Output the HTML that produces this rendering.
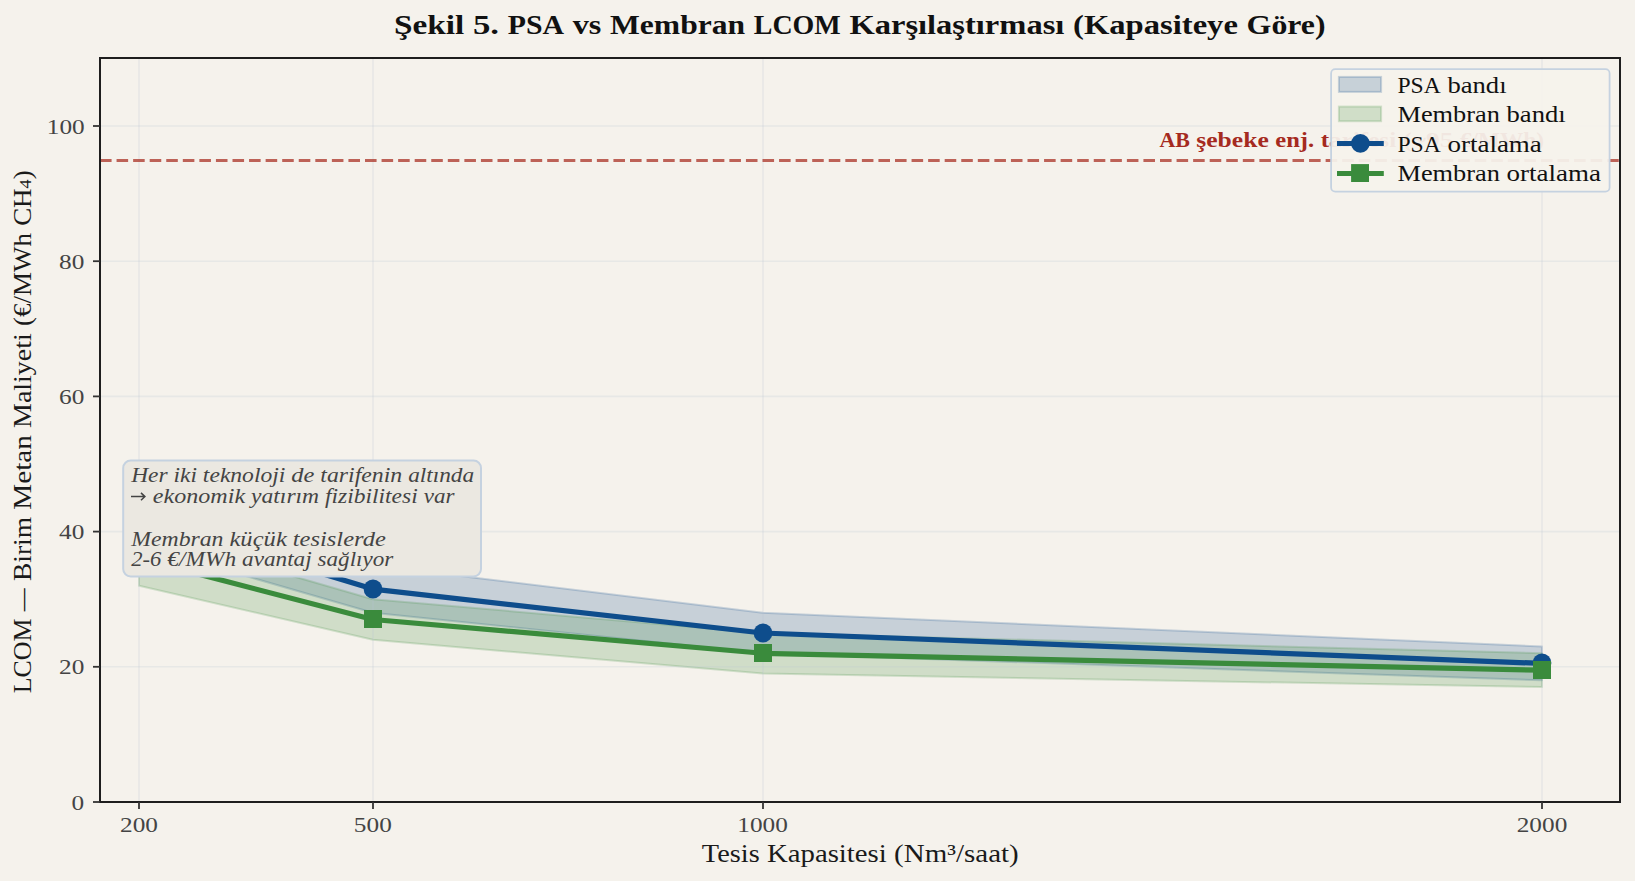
<!DOCTYPE html>
<html><head><meta charset="utf-8"><style>
html,body{margin:0;padding:0;background:#f5f2ec;width:1635px;height:881px;overflow:hidden}
svg{display:block}
text{font-family:"Liberation Serif", serif}
</style></head><body>
<svg width="1635" height="881" viewBox="0 0 1635 881">
<rect x="0" y="0" width="1635" height="881" fill="#f5f2ec"/>
<g font-size="28" font-weight="bold" fill="#111"><text x="394.00" y="34.20" textLength="70.28" lengthAdjust="spacingAndGlyphs">Şekil</text><text x="472.98" y="34.20" textLength="26.10" lengthAdjust="spacingAndGlyphs">5.</text><text x="507.79" y="34.20" textLength="56.25" lengthAdjust="spacingAndGlyphs">PSA</text><text x="572.74" y="34.20" textLength="28.60" lengthAdjust="spacingAndGlyphs">vs</text><text x="610.05" y="34.20" textLength="135.06" lengthAdjust="spacingAndGlyphs">Membran</text><text x="753.81" y="34.20" textLength="86.93" lengthAdjust="spacingAndGlyphs">LCOM</text><text x="849.44" y="34.20" textLength="214.88" lengthAdjust="spacingAndGlyphs">Karşılaştırması</text><text x="1073.03" y="34.20" textLength="164.90" lengthAdjust="spacingAndGlyphs">(Kapasiteye</text><text x="1246.63" y="34.20" textLength="78.93" lengthAdjust="spacingAndGlyphs">Göre)</text></g>
<polygon points="139.00,545.12 372.83,612.72 762.56,653.28 1542.00,680.32 1542.00,646.52 762.56,612.72 372.83,565.40 139.00,491.04" fill="#0e4d8c" fill-opacity="0.2" stroke="#0e4d8c" stroke-opacity="0.2" stroke-width="2" stroke-linejoin="round"/>
<polygon points="139.00,585.68 372.83,639.76 762.56,673.56 1542.00,687.08 1542.00,653.28 762.56,633.00 372.83,599.20 139.00,531.60" fill="#3a8b3c" fill-opacity="0.2" stroke="#3a8b3c" stroke-opacity="0.2" stroke-width="2" stroke-linejoin="round"/>
<g stroke="#b8c6d4" stroke-opacity="0.23" stroke-width="1.6"><line x1="139" y1="58" x2="139" y2="802"/><line x1="373" y1="58" x2="373" y2="802"/><line x1="763" y1="58" x2="763" y2="802"/><line x1="1542" y1="58" x2="1542" y2="802"/><line x1="100" y1="802.00" x2="1620" y2="802.00"/><line x1="100" y1="666.80" x2="1620" y2="666.80"/><line x1="100" y1="531.60" x2="1620" y2="531.60"/><line x1="100" y1="396.40" x2="1620" y2="396.40"/><line x1="100" y1="261.20" x2="1620" y2="261.20"/><line x1="100" y1="126.00" x2="1620" y2="126.00"/></g>
<line x1="100" y1="160.45" x2="1620" y2="160.45" stroke="#a93226" stroke-opacity="0.75" stroke-width="3.1" stroke-dasharray="11.5625 5"/>
<polyline points="139.00,518.08 372.83,589.06 762.56,633.00 1542.00,663.42" fill="none" stroke="#0e4d8c" stroke-width="5.2" stroke-linejoin="round"/>
<circle cx="139" cy="518" r="9.4" fill="#0e4d8c"/>
<circle cx="373" cy="589" r="9.4" fill="#0e4d8c"/>
<circle cx="763" cy="633" r="9.4" fill="#0e4d8c"/>
<circle cx="1542" cy="663" r="9.4" fill="#0e4d8c"/>
<polyline points="139.00,558.64 372.83,619.48 762.56,653.28 1542.00,670.18" fill="none" stroke="#3a8b3c" stroke-width="5.2" stroke-linejoin="round"/>
<rect x="130" y="550" width="18" height="18" fill="#3a8b3c"/>
<rect x="364" y="610" width="18" height="18" fill="#3a8b3c"/>
<rect x="754" y="644" width="18" height="18" fill="#3a8b3c"/>
<rect x="1533" y="661" width="18" height="18" fill="#3a8b3c"/>
<g font-size="20.8" font-weight="bold" fill="#a52a20"><text x="1159.40" y="146.80" textLength="30.40" lengthAdjust="spacingAndGlyphs">AB</text><text x="1196.32" y="146.80" textLength="72.45" lengthAdjust="spacingAndGlyphs">şebeke</text><text x="1275.30" y="146.80" textLength="38.87" lengthAdjust="spacingAndGlyphs">enj.</text><text x="1320.70" y="146.80" textLength="75.49" lengthAdjust="spacingAndGlyphs">tarifesi</text><text x="1402.71" y="146.80" textLength="50.67" lengthAdjust="spacingAndGlyphs">(~95</text><text x="1459.91" y="146.80" textLength="84.21" lengthAdjust="spacingAndGlyphs">€/MWh)</text></g>
<rect x="123.2" y="460.5" width="357.8" height="116" rx="7.5" ry="7.5" fill="#ebe8e1" stroke="#c5d2e0" stroke-width="2"/>
<g font-size="20.3" font-style="italic" fill="#444"><text x="131.20" y="481.80" textLength="36.41" lengthAdjust="spacingAndGlyphs">Her</text><text x="173.57" y="481.80" textLength="23.36" lengthAdjust="spacingAndGlyphs">iki</text><text x="202.89" y="481.80" textLength="82.45" lengthAdjust="spacingAndGlyphs">teknoloji</text><text x="291.30" y="481.80" textLength="23.10" lengthAdjust="spacingAndGlyphs">de</text><text x="320.36" y="481.80" textLength="81.86" lengthAdjust="spacingAndGlyphs">tarifenin</text><text x="408.18" y="481.80" textLength="65.97" lengthAdjust="spacingAndGlyphs">altında</text></g>
<path d="M131,496.6 H144.6 M141,492.9 L144.9,496.6 L141,500.3" fill="none" stroke="#444" stroke-width="1.5"/>
<g font-size="20.3" font-style="italic" fill="#444"><text x="152.87" y="502.60" textLength="92.25" lengthAdjust="spacingAndGlyphs">ekonomik</text><text x="251.08" y="502.60" textLength="68.04" lengthAdjust="spacingAndGlyphs">yatırım</text><text x="325.08" y="502.60" textLength="92.63" lengthAdjust="spacingAndGlyphs">fizibilitesi</text><text x="423.67" y="502.60" textLength="30.73" lengthAdjust="spacingAndGlyphs">var</text></g>
<g font-size="20.3" font-style="italic" fill="#444"><text x="131.20" y="545.60" textLength="92.29" lengthAdjust="spacingAndGlyphs">Membran</text><text x="229.45" y="545.60" textLength="57.38" lengthAdjust="spacingAndGlyphs">küçük</text><text x="292.79" y="545.60" textLength="93.03" lengthAdjust="spacingAndGlyphs">tesislerde</text></g>
<g font-size="20.3" font-style="italic" fill="#444"><text x="131.20" y="566.40" textLength="30.20" lengthAdjust="spacingAndGlyphs">2-6</text><text x="167.36" y="566.40" textLength="68.79" lengthAdjust="spacingAndGlyphs">€/MWh</text><text x="242.11" y="566.40" textLength="69.55" lengthAdjust="spacingAndGlyphs">avantaj</text><text x="317.62" y="566.40" textLength="75.64" lengthAdjust="spacingAndGlyphs">sağlıyor</text></g>
<rect x="100" y="58" width="1520" height="744" fill="none" stroke="#1e1e1e" stroke-width="2"/>
<g stroke="#333" stroke-width="1.8"><line x1="139" y1="802" x2="139" y2="809"/><line x1="373" y1="802" x2="373" y2="809"/><line x1="763" y1="802" x2="763" y2="809"/><line x1="1542" y1="802" x2="1542" y2="809"/><line x1="93" y1="802.00" x2="100" y2="802.00"/><line x1="93" y1="666.80" x2="100" y2="666.80"/><line x1="93" y1="531.60" x2="100" y2="531.60"/><line x1="93" y1="396.40" x2="100" y2="396.40"/><line x1="93" y1="261.20" x2="100" y2="261.20"/><line x1="93" y1="126.00" x2="100" y2="126.00"/></g>
<g font-size="21.8" fill="#444"><text x="71.41" y="809.60" textLength="12.65" lengthAdjust="spacingAndGlyphs">0</text></g>
<g font-size="21.8" fill="#444"><text x="59.12" y="674.40" textLength="25.29" lengthAdjust="spacingAndGlyphs">20</text></g>
<g font-size="21.8" fill="#444"><text x="59.12" y="539.20" textLength="25.29" lengthAdjust="spacingAndGlyphs">40</text></g>
<g font-size="21.8" fill="#444"><text x="59.12" y="404.00" textLength="25.29" lengthAdjust="spacingAndGlyphs">60</text></g>
<g font-size="21.8" fill="#444"><text x="59.12" y="268.80" textLength="25.29" lengthAdjust="spacingAndGlyphs">80</text></g>
<g font-size="21.8" fill="#444"><text x="46.84" y="133.60" textLength="37.94" lengthAdjust="spacingAndGlyphs">100</text></g>
<g font-size="21.8" fill="#444"><text x="120.03" y="831.60" textLength="37.94" lengthAdjust="spacingAndGlyphs">200</text></g>
<g font-size="21.8" fill="#444"><text x="353.87" y="831.60" textLength="37.94" lengthAdjust="spacingAndGlyphs">500</text></g>
<g font-size="21.8" fill="#444"><text x="737.26" y="831.60" textLength="50.58" lengthAdjust="spacingAndGlyphs">1000</text></g>
<g font-size="21.8" fill="#444"><text x="1516.71" y="831.60" textLength="50.58" lengthAdjust="spacingAndGlyphs">2000</text></g>
<g font-size="24.2" fill="#1a1a1a"><text x="701.88" y="862.00" textLength="57.81" lengthAdjust="spacingAndGlyphs">Tesis</text><text x="766.96" y="862.00" textLength="119.85" lengthAdjust="spacingAndGlyphs">Kapasitesi</text><text x="894.08" y="862.00" textLength="124.64" lengthAdjust="spacingAndGlyphs">(Nm³/saat)</text></g>
<g transform="translate(31,431.8) rotate(-90)"><g font-size="24.2" fill="#1a1a1a"><text x="-261.51" y="0.00" textLength="74.87" lengthAdjust="spacingAndGlyphs">LCOM</text><text x="-179.37" y="0.00" textLength="22.88" lengthAdjust="spacingAndGlyphs">—</text><text x="-149.22" y="0.00" textLength="64.07" lengthAdjust="spacingAndGlyphs">Birim</text><text x="-77.88" y="0.00" textLength="74.52" lengthAdjust="spacingAndGlyphs">Metan</text><text x="3.91" y="0.00" textLength="94.66" lengthAdjust="spacingAndGlyphs">Maliyeti</text><text x="105.84" y="0.00" textLength="92.85" lengthAdjust="spacingAndGlyphs">(€/MWh</text><text x="205.96" y="0.00" textLength="55.55" lengthAdjust="spacingAndGlyphs">CH<tspan font-size="0.68em">4</tspan>)</text></g></g>
<rect x="1331.1" y="69.2" width="278.5" height="122.5" rx="4.2" ry="4.2" fill="#f5f2ec" fill-opacity="0.94" stroke="#c5d2e0" stroke-width="1.8"/>
<rect x="1338.9" y="76.9" width="42.2" height="15" fill="#0e4d8c" fill-opacity="0.2" stroke="#0e4d8c" stroke-opacity="0.2" stroke-width="2"/>
<rect x="1338.9" y="106.6" width="42.2" height="14.6" fill="#3a8b3c" fill-opacity="0.2" stroke="#3a8b3c" stroke-opacity="0.2" stroke-width="2"/>
<line x1="1337" y1="143.5" x2="1383.8" y2="143.5" stroke="#0e4d8c" stroke-width="5.2"/><circle cx="1360.4" cy="143.4" r="9.3" fill="#0e4d8c"/>
<line x1="1337" y1="173.5" x2="1383.8" y2="173.5" stroke="#3a8b3c" stroke-width="5.2"/><rect x="1351.1" y="164.1" width="17.9" height="17.9" fill="#3a8b3c"/>
<g font-size="22.2" fill="#111"><text x="1397.50" y="93.00" textLength="43.29" lengthAdjust="spacingAndGlyphs">PSA</text><text x="1447.41" y="93.00" textLength="59.12" lengthAdjust="spacingAndGlyphs">bandı</text></g>
<g font-size="22.2" fill="#111"><text x="1397.50" y="122.45" textLength="102.45" lengthAdjust="spacingAndGlyphs">Membran</text><text x="1506.56" y="122.45" textLength="59.12" lengthAdjust="spacingAndGlyphs">bandı</text></g>
<g font-size="22.2" fill="#111"><text x="1397.50" y="151.90" textLength="43.29" lengthAdjust="spacingAndGlyphs">PSA</text><text x="1447.41" y="151.90" textLength="94.46" lengthAdjust="spacingAndGlyphs">ortalama</text></g>
<g font-size="22.2" fill="#111"><text x="1397.50" y="181.35" textLength="102.45" lengthAdjust="spacingAndGlyphs">Membran</text><text x="1506.56" y="181.35" textLength="94.46" lengthAdjust="spacingAndGlyphs">ortalama</text></g>
</svg></body></html>
